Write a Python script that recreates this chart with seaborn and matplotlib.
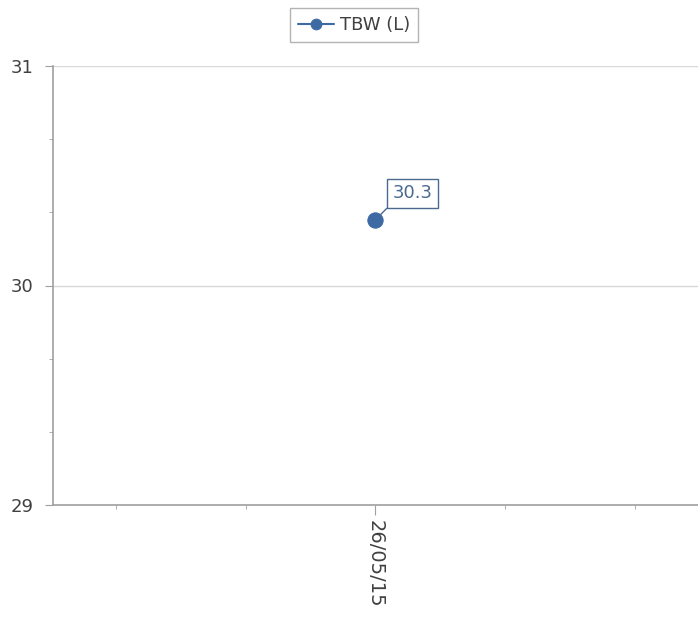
import numpy as np
import pandas as pd
import matplotlib
matplotlib.use("Agg")
import matplotlib.pyplot as plt
from matplotlib.ticker import FixedLocator
import seaborn as sns

# data
dates = ["26/05/15"]
tbw = [30.3]
series_name = "TBW (L)"

sns.set_style("white")
plt.rcParams["font.family"] = ["DejaVu Sans"]

df = pd.DataFrame({"x": np.arange(len(dates)), "TBW": tbw})

fig = plt.figure(figsize=(6.98, 6.18), dpi=100)
ax = fig.add_axes([53 / 698, 1 - 505 / 618, 1 - 53 / 698, (505 - 66) / 618])

blue = "#3d6aa3"
txt = "#404040"
sns.lineplot(data=df, x="x", y="TBW", ax=ax, color=blue, marker="o",
             markersize=11, markeredgecolor=blue, linewidth=1.5,
             label=series_name)

ax.set_ylim(29, 31)
ax.set_xlim(-2.49, 2.49)
ax.set_yticks([29, 30, 31])
ax.yaxis.set_minor_locator(FixedLocator([29 + 1 / 3, 29 + 2 / 3, 30 + 1 / 3, 30 + 2 / 3]))
ax.set_xticks(df["x"])
ax.set_xticklabels(dates, rotation=-90)
ax.xaxis.set_minor_locator(FixedLocator([-2, -1, 1, 2]))
ax.set_xlabel("")
ax.set_ylabel("")

ax.grid(axis="y", which="major", color="#d9d9d9", linewidth=1)
ax.set_axisbelow(True)
for s in ["top", "right"]:
    ax.spines[s].set_visible(False)
for s in ["left", "bottom"]:
    ax.spines[s].set_color("#a0a0a0")
    ax.spines[s].set_linewidth(1.2)

ax.tick_params(axis="y", which="major", left=True, length=6, color="#a0a0a0",
               labelsize=13, labelcolor=txt, pad=8)
ax.tick_params(axis="y", which="minor", left=True, length=3, color="#a0a0a0")
ax.tick_params(axis="x", which="major", bottom=True, length=7, color="#a0a0a0",
               labelsize=14, labelcolor=txt, pad=4)
ax.tick_params(axis="x", which="minor", bottom=True, length=3, color="#a0a0a0")

for xi, v in zip(df["x"], tbw):
    ax.annotate(f"{v:.1f}", xy=(xi, v), xytext=(12.5, 12.5),
                textcoords="offset points", ha="left", va="bottom",
                fontsize=13, color="#4a6a8f",
                bbox=dict(boxstyle="square,pad=0.3", fc="white", ec="#4a6a8f", lw=1),
                arrowprops=dict(arrowstyle="-", color="#4a6a8f", lw=1,
                                relpos=(0, 0), shrinkA=0, shrinkB=5))

leg = ax.legend(loc="upper center", bbox_to_anchor=(0.4667, 1.132),
                ncol=1, frameon=True, fancybox=False, fontsize=13,
                handlelength=2.0, borderpad=0.45, handletextpad=0.35,
                markerscale=0.7, borderaxespad=0)
leg.get_frame().set_edgecolor("#a0a0a0")
leg.get_frame().set_linewidth(1)
for t in leg.get_texts():
    t.set_color(txt)

fig.savefig("out.png", dpi=100)
